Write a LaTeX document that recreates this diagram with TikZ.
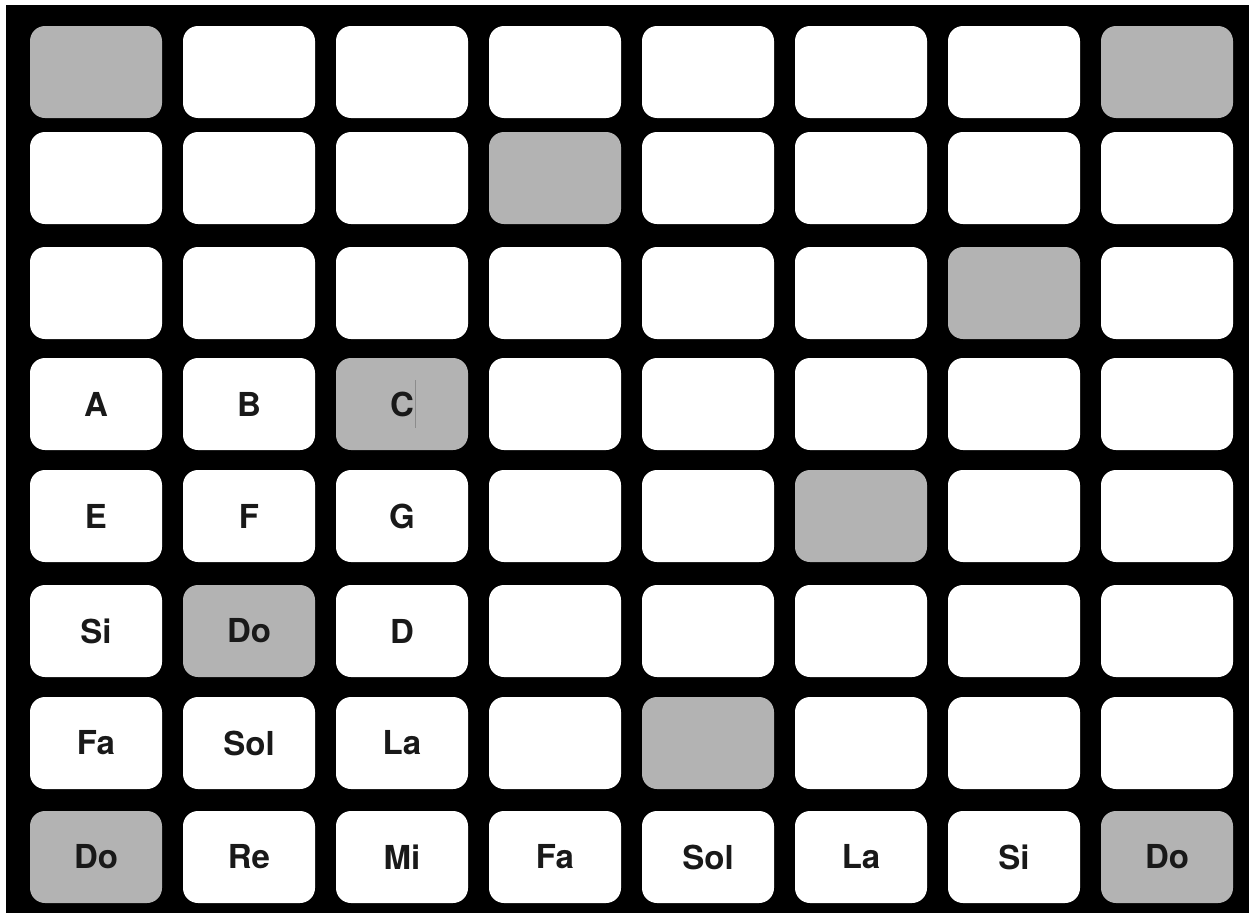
\documentclass[tikz,border=0pt]{standalone}
\usepackage{fontspec}
\setmainfont{TeX Gyre Heros}
\usepackage{xcolor}
\usepackage{tikz}
\definecolor{padgray}{HTML}{B3B3B3}
\tikzset{pad/.style={draw=none,fill=white,rounded corners=15pt,minimum width=132pt,minimum height=92pt,inner sep=0pt,text=black!90,font=\fontsize{33}{36}\selectfont\bfseries},
lit/.style={pad,fill=padgray}}

\begin{document}
\begin{tikzpicture}[x=1pt,y=-1pt]
\fill[white](0,0)rectangle(1254,913);
\fill[black](6,5)rectangle(1249,913);
%pads, row by row: height/style/label
\foreach \y/\row [count=\r from 0] in {
72/{lit/{},pad/{},pad/{},pad/{},pad/{},pad/{},pad/{},lit/{}},
178/{pad/{},pad/{},pad/{},lit/{},pad/{},pad/{},pad/{},pad/{}},
293/{pad/{},pad/{},pad/{},pad/{},pad/{},pad/{},lit/{},pad/{}},
404/{pad/A,pad/B,lit/C,pad/{},pad/{},pad/{},pad/{},pad/{}},
516/{pad/E,pad/F,pad/G,pad/{},pad/{},lit/{},pad/{},pad/{}},
631/{pad/Si,lit/Do,pad/D,pad/{},pad/{},pad/{},pad/{},pad/{}},
743/{pad/Fa,pad/Sol,pad/La,pad/{},lit/{},pad/{},pad/{},pad/{}},
857/{lit/Do,pad/Re,pad/Mi,pad/Fa,pad/Sol,pad/La,pad/Si,lit/Do}}{
\foreach \s/\t [count=\c from 0] in \row
\node[\s] (p-\r-\c) at (96+153*\c,\y) {\t};
}
%cursor mark beside C
\coordinate (cur) at ([xshift=13pt,yshift=24pt]p-3-2.center);
\draw[black!45,line width=0.8pt](cur)--++(0,48);
\end{tikzpicture}
\end{document}
